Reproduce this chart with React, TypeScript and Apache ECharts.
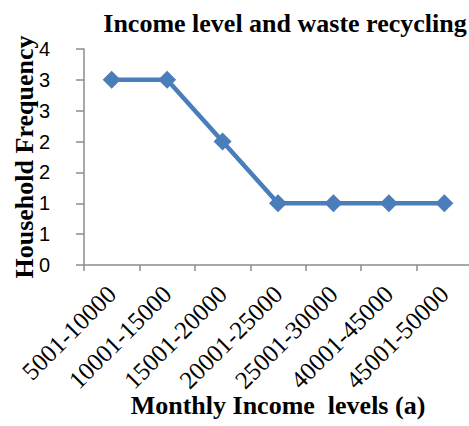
import React, { useEffect, useRef } from "react";
import * as echarts from "echarts";

const categories = ["5001-10000", "10001-15000", "15001-20000", "20001-25000", "25001-30000", "40001-45000", "45001-50000"];
const frequency = [3, 3, 2, 1, 1, 1, 1];
const titleText = "Income level and waste recycling";
const xName = "Monthly Income  levels (a)";
const yName = "Household Frequency";

export default function App() {
  const ref = useRef<HTMLDivElement>(null);
  useEffect(() => {
    const chart = echarts.init(ref.current!, null, { renderer: "svg" });
    const serif = "'Liberation Serif', 'Times New Roman', serif";
    chart.setOption({
      animation: false,
      backgroundColor: "#ffffff",
      title: {
        text: titleText,
        left: 280,
        top: 5,
        textAlign: "center",
        textStyle: { fontFamily: serif, fontWeight: "bold", fontSize: 26, color: "#000" },
      },
      grid: { left: 84, top: 49, width: 388, bottom: 161, containLabel: false, outerBoundsMode: "none" },
      xAxis: {
        type: "category",
        data: categories,
        boundaryGap: true,
        name: xName,
        nameLocation: "middle",
        nameGap: 127,
        nameMoveOverlap: false,
        nameTextStyle: { fontFamily: serif, fontWeight: "bold", fontSize: 26, color: "#000" },
        axisLine: { lineStyle: { color: "#8c8c8c", width: 1.5 } },
        axisTick: { show: true, alignWithLabel: false, length: 6, lineStyle: { color: "#8c8c8c", width: 1.5 } },
        axisLabel: {
          rotate: 45,
          margin: 25,
          verticalAlign: "middle",
          fontFamily: serif,
          fontSize: 25,
          color: "#000",
          interval: 0,
          hideOverlap: false,
        },
        splitLine: { show: false },
      },
      yAxis: {
        type: "value",
        min: 0,
        max: 3.5,
        interval: 0.5,
        name: yName,
        nameLocation: "middle",
        nameGap: 47,
        nameRotate: 90,
        nameMoveOverlap: false,
        nameTextStyle: { fontFamily: serif, fontWeight: "bold", fontSize: 26, color: "#000" },
        axisLine: { show: true, lineStyle: { color: "#8c8c8c", width: 1.5 } },
        axisTick: { show: true, length: 8, lineStyle: { color: "#8c8c8c", width: 1.5 } },
        axisLabel: {
          margin: 25,
          align: "right",
          padding: [0, 9, 0, 0],
          fontFamily: "'Liberation Sans', Arial, sans-serif",
          fontSize: 20,
          color: "#000",
          formatter: (v: number) => String(Math.round(v)),
        },
        splitLine: { show: false },
      },
      series: [
        {
          type: "line",
          data: frequency,
          symbol: "diamond",
          symbolSize: 18,
          lineStyle: { color: "#4a7ebb", width: 4.5 },
          itemStyle: { color: "#4a7ebb" },
        },
      ],
    });
    return () => chart.dispose();
  }, []);
  return <div ref={ref} style={{ width: 469, height: 426, position: "absolute", left: 0, top: 0 }} />;
}
